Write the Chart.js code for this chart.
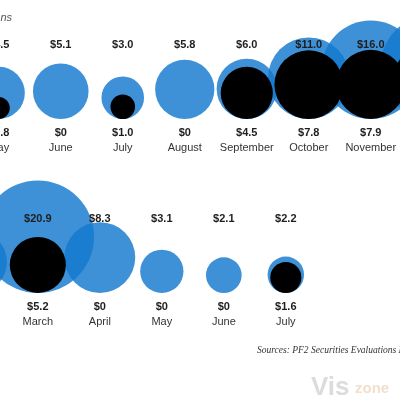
<!DOCTYPE html>
<html>
<head>
<meta charset="utf-8">
<script src="https://cdn.jsdelivr.net/npm/chart.js@4/dist/chart.umd.min.js"></script>
<style>
  html, body { margin: 0; padding: 0; background: #ffffff; }
  #wrap { width: 400px; height: 400px; position: relative; }
</style>
</head>
<body>
<div id="wrap"><canvas id="c" width="400" height="400"></canvas></div>
<script>
// ---- data (US$ billions) ----
const topMonths = ["May", "June", "July", "August", "September", "October", "November", "December"];
const topTotals = [4.5, 5.1, 3.0, 5.8, 6.0, 11.0, 16.0, 18.0];
const topBlack  = [0.8, 0, 1.0, 0, 4.5, 7.8, 7.9, 10.0];

const bottomMonths = ["February", "March", "April", "May", "June", "July"];
const bottomTotals = [6.4, 20.9, 8.3, 3.1, 2.1, 2.2];
const bottomBlack  = [0, 5.2, 0, 0, 0, 1.6];

const unitLabel = "In billions";
const sourceText = "Sources: PF2 Securities Evaluations Inc.";

// ---- layout ----
const RADIUS_PER_SQRT = 12.3;   // px per sqrt($bn) -> area proportional to value
const SLOT_PX = 62;
const rows = [
  { months: topMonths, totals: topTotals, black: topBlack, baseline: 119, offset: -0.02 },
  { months: bottomMonths, totals: bottomTotals, black: bottomBlack, baseline: 293, offset: -0.39 }
];
const radiusOf = v => RADIUS_PER_SQRT * Math.sqrt(v);
const fmt = v => v === 0 ? "$0" : "$" + v.toFixed(1);

const bluePts = [], blackPts = [];
rows.forEach(row => {
  row.months.forEach((m, i) => {
    const rb = radiusOf(row.totals[i]);
    bluePts.push({ x: i + row.offset, y: row.baseline - rb, r: rb });
    const rk = radiusOf(row.black[i]);
    blackPts.push({ x: i + row.offset, y: row.baseline - rk, r: rk });
  });
});

const labelPlugin = {
  id: 'labels',
  afterDatasetsDraw(chart) {
    const ctx = chart.ctx;
    const xs = chart.scales.x, ys = chart.scales.y;
    ctx.save();
    ctx.textAlign = 'center';
    ctx.textBaseline = 'middle';
    rows.forEach(row => {
      const by = ys.getPixelForValue(row.baseline);
      row.months.forEach((m, i) => {
        const px = xs.getPixelForValue(i + row.offset);
        ctx.fillStyle = '#1e1e1e';
        ctx.font = 'bold 11px "Liberation Sans", Arial, sans-serif';
        ctx.fillText(fmt(row.totals[i]), px, by - 74);
        ctx.fillText(fmt(row.black[i]), px, by + 14);
        ctx.fillStyle = '#333333';
        ctx.font = '11px "Liberation Sans", Arial, sans-serif';
        ctx.fillText(m, px, by + 29);
      });
    });
    // unit note
    ctx.textAlign = 'right';
    ctx.fillStyle = '#555555';
    ctx.font = 'italic 11px "Liberation Sans", Arial, sans-serif';
    ctx.fillText(unitLabel, 12, 18);
    // source
    ctx.textAlign = 'left';
    ctx.fillStyle = '#333333';
    ctx.font = 'italic 9.5px "Liberation Serif", serif';
    ctx.fillText(sourceText, 257, 350);
    // watermark
    ctx.textBaseline = 'alphabetic';
    ctx.fillStyle = '#dcdcdc';
    ctx.font = 'bold 26px "Liberation Sans", Arial, sans-serif';
    ctx.fillText('Vis', 311, 395);
    ctx.fillStyle = '#f1dfcf';
    ctx.font = 'bold 15px "Liberation Sans", Arial, sans-serif';
    ctx.fillText('zone', 355, 393);
    ctx.restore();
  }
};

new Chart(document.getElementById('c'), {
  type: 'bubble',
  data: {
    datasets: [
      { label: 'Total', data: bluePts, order: 2, backgroundColor: 'rgba(20,121,206,0.82)', borderWidth: 0, hoverBorderWidth: 0 },
      { label: 'Part', data: blackPts, order: 1, backgroundColor: '#000000', borderWidth: 0, hoverBorderWidth: 0 }
    ]
  },
  options: {
    responsive: false,
    animation: false,
    events: [],
    layout: { padding: 0, autoPadding: false },
    plugins: { legend: { display: false }, tooltip: { enabled: false } },
    scales: {
      x: { type: 'linear', display: false, min: 0, max: 400 / SLOT_PX },
      y: { type: 'linear', display: false, min: 0, max: 400, reverse: true }
    }
  },
  plugins: [labelPlugin]
});
</script>
</body>
</html>
